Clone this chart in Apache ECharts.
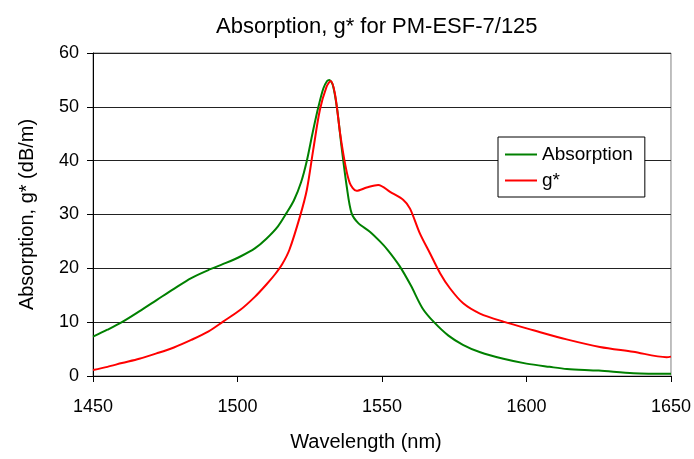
<!DOCTYPE html>
<html>
<head>
<meta charset="utf-8">
<script src="https://cdn.jsdelivr.net/npm/echarts@6/dist/echarts.min.js"></script>
<style>html,body{margin:0;padding:0;background:#fff;}#c{width:694px;height:459px;}</style>
</head>
<body>
<div id="c"></div>
<script>
const titleText = "Absorption, g* for PM-ESF-7/125";
const xName = "Wavelength (nm)";
const yName = "Absorption, g* (dB/m)";
const seriesNames = ["Absorption", "g*"];

const absWl = [1450,1455,1460,1466,1472,1478,1484,1490,1496,1501,1506,1510,1514,1517,1519.5,1522,1524,1526,1528,1529.7,1531,1531.8,1533,1534.5,1536,1537.8,1539.5,1541.8,1545.8,1549.3,1552,1556,1560,1564,1568,1573,1578,1584,1592,1600,1608,1614,1625,1637,1650];
const absVal = [7.3,8.6,10.0,12.0,14.1,16.2,18.2,19.7,21.0,22.2,23.7,25.5,27.8,30.3,32.6,36.0,40.0,45.2,50.0,53.4,54.8,55.0,54.0,49.5,42.6,35.2,30.2,28.4,26.8,25.0,23.4,20.5,16.8,12.6,10.0,7.5,5.8,4.4,3.2,2.3,1.7,1.3,1.0,0.5,0.4];

const gWl = [1450,1455,1460,1466,1472,1478,1484,1490,1495,1501,1506,1510,1513,1515.5,1518,1521.6,1524,1526.2,1528.5,1530.8,1532.2,1533.7,1535.5,1537.2,1538.9,1541.2,1544.7,1548.7,1552.8,1557.4,1559.7,1563.1,1566.6,1570.1,1573.5,1578.1,1583.9,1592,1602.4,1613.9,1625.4,1636.9,1648.5,1650];
const gVal = [1.1,1.7,2.4,3.2,4.2,5.3,6.7,8.3,10.1,12.3,14.7,17.0,18.9,20.8,23.5,29.6,34.6,42.0,49.4,53.7,54.8,52.5,45.1,39.5,35.8,34.4,35.0,35.5,34.2,32.7,31.1,26.5,22.8,19.1,16.3,13.5,11.6,10.1,8.5,6.8,5.4,4.5,3.5,3.6];

const font = "'Liberation Sans Narrow', 'Liberation Sans', Arial, sans-serif";
const chart = echarts.init(document.getElementById('c'));
chart.setOption({
  animation: false,
  title: {text: titleText, left: 211, top: 11, textStyle: {fontFamily: font, fontSize: 22, fontWeight: 'normal', color: '#000'}},
  grid: {left: 93, right: 23, top: 53, bottom: 83, show: true, borderColor: '#808080', borderWidth: 1, backgroundColor: 'transparent'},
  legend: {
    orient: 'vertical', left: 498, top: 137, itemGap: 7,
    padding: [8, 12, 7, 7], backgroundColor: '#fff', borderColor: '#000', borderWidth: 1,
    itemWidth: 32, itemHeight: 2, icon: 'rect',
    textStyle: {fontFamily: font, fontSize: 19, color: '#000'},
    data: seriesNames
  },
  xAxis: {
    type: 'value', min: 1450, max: 1650, interval: 50,
    name: xName, nameLocation: 'middle', nameGap: 56,
    nameTextStyle: {fontFamily: font, fontSize: 20, color: '#000', padding: [0, 32, 0, 0]},
    axisLine: {lineStyle: {color: '#000', width: 1}},
    axisTick: {show: true, length: 6, lineStyle: {color: '#000'}},
    axisLabel: {fontFamily: font, fontSize: 18, color: '#000', margin: 22, formatter: v => String(v)},
    splitLine: {show: false}
  },
  yAxis: {
    type: 'value', min: 0, max: 60, interval: 10,
    name: yName, nameLocation: 'middle', nameGap: 56,
    nameTextStyle: {fontFamily: font, fontSize: 20, color: '#000'},
    axisLine: {show: true, lineStyle: {color: '#000', width: 1}},
    axisTick: {show: true, length: 6, lineStyle: {color: '#000'}},
    axisLabel: {fontFamily: font, fontSize: 18, color: '#000', margin: 14},
    splitLine: {show: true, lineStyle: {color: '#222', width: 1}}
  },
  series: [
    {name: seriesNames[0], type: 'line', data: absWl.map((w, i) => [w, absVal[i]]), showSymbol: false, smooth: 0.3, lineStyle: {color: '#008000', width: 2}, itemStyle: {color: '#008000'}},
    {name: seriesNames[1], type: 'line', data: gWl.map((w, i) => [w, gVal[i]]), showSymbol: false, smooth: 0.3, lineStyle: {color: '#ff0000', width: 2}, itemStyle: {color: '#ff0000'}}
  ]
});
</script>
</body>
</html>
